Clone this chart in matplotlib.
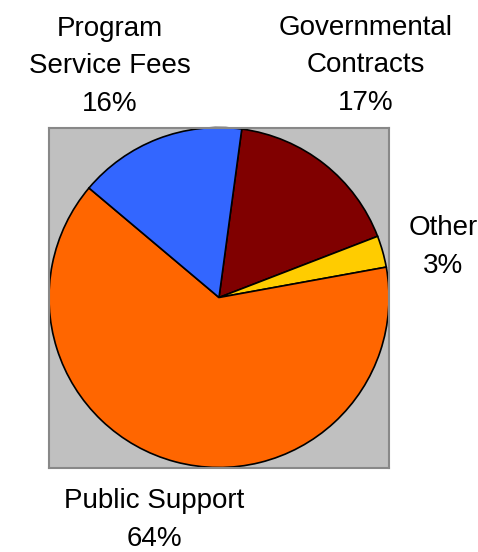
import matplotlib.pyplot as plt

# Revenue sources (percent)
labels = ['Governmental\nContracts', 'Other', 'Public Support', 'Program\nService Fees']
shares = [17, 3, 64, 16]
colors = ['#800000', '#FFCC00', '#FF6600', '#3366FF']

plt.rcParams['font.family'] = ['Liberation Sans', 'DejaVu Sans']

fig = plt.figure(figsize=(4.78, 5.52), dpi=100)
ax = fig.add_axes([49 / 478, 84 / 552, 340 / 478, 341 / 552])
ax.set_facecolor('#C0C0C0')

ax.pie(shares, colors=colors, startangle=82.3, counterclock=False,
       wedgeprops={'edgecolor': 'black', 'linewidth': 1.2})
ax.set_xlim(-1, 1)
ax.set_ylim(-1, 1)
ax.set_frame_on(True)
for s in ax.spines.values():
    s.set_color('#888888')
    s.set_linewidth(1.5)

# label positions in pixels (x center, baseline of last line from top)
label_pos = [(366, 110), (443, 273), (154, 546), (110, 111)]
for lab, v, (px, py) in zip(labels, shares, label_pos):
    fig.text(px / 478, 1 - py / 552, f'{lab}\n{v}%', ha='center', va='baseline',
             fontsize=20, linespacing=1.58, color='black')

fig.savefig('out.png', dpi=100)
